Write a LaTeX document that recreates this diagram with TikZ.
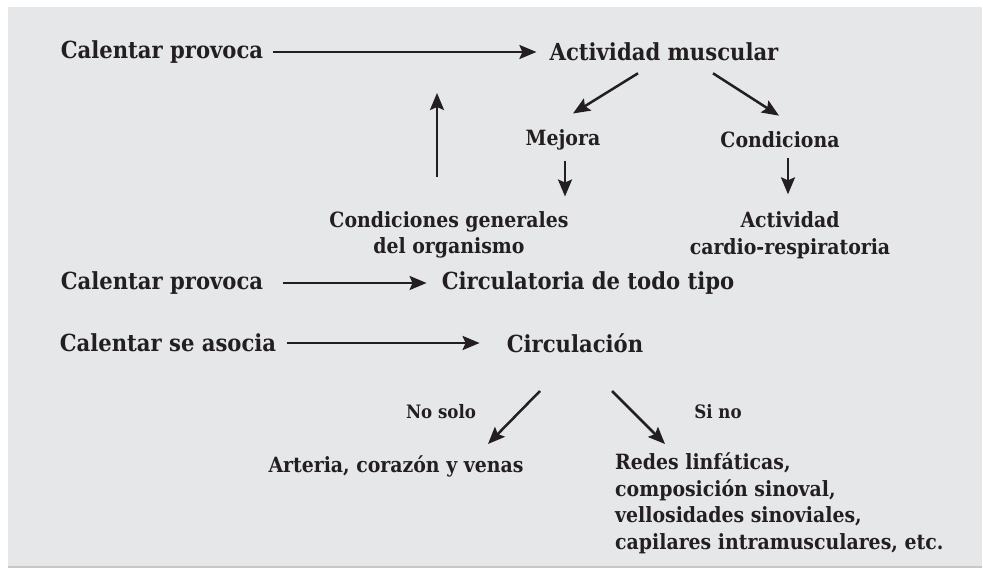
\documentclass[tikz,border=0pt]{standalone}
\usepackage{fontspec}
\setmainfont{DejaVu Serif Condensed}
\usetikzlibrary{arrows.meta,calc}
\definecolor{panel}{HTML}{E6E7E9}
\definecolor{ink}{HTML}{231F20}
\begin{document}
\begin{tikzpicture}[x=1pt,y=-1pt,
    big/.style={inner sep=0pt,text=ink,font=\bfseries\fontsize{23.5}{28}\selectfont},
    small/.style={inner sep=0pt,text=ink,font=\bfseries\fontsize{21}{26.5}\selectfont},
    tiny/.style={inner sep=0pt,text=ink,font=\bfseries\fontsize{18.5}{22}\selectfont},
    arr/.style={draw=ink,line width=2.5pt,-{Stealth[length=17pt,width=14pt,inset=3pt]}}]
    \useasboundingbox (0,0) rectangle (983,575);
    \fill[panel] (8,7) rectangle (982,567);
    \draw[black!22,line width=1.5pt] (8,567) -- (982,567);
    % first block
    \node[big] (cp1) at (162,52) {Calentar provoca};
    \node[big] (act) at (664,52) {Actividad muscular};
    \node[small] (mej) at (563,140) {Mejora};
    \node[small] (cond) at (780,140) {Condiciona};
    \node[small,align=center] (cgo) at (449,235) {Condiciones generales\\del organismo};
    \node[small,align=center] (acr) at (790,235) {Actividad\\cardio-respiratoria};
    \coordinate (upb) at (437,177);
    \coordinate (upt) at (437,93);
    \draw[arr,shorten <=10pt,shorten >=13pt] (cp1.east) -- (act.west);
    \draw[arr] ($(act.south)+(-26,12)$) -- ($(mej.north)+(10,-16)$);
    \draw[arr] ($(act.south)+(49,12)$) -- ($(cond.north)+(-1,-16)$);
    \draw[arr] ($(mej.south)+(2,10)$) -- ($(mej.south)+(2,46)$);
    \draw[arr] ($(cond.south)+(8,10)$) -- ($(cond.south)+(8,46)$);
    \draw[arr] (upb) -- (upt);
    % second block
    \node[big] (cp2) at (162,283) {Calentar provoca};
    \node[big] (ctt) at (588,283) {Circulatoria de todo tipo};
    \draw[arr,shorten <=20pt,shorten >=15pt] (cp2.east) -- (ctt.west);
    % third block
    \node[big] (csa) at (168,343) {Calentar se asocia};
    \node[big] (circ) at (575,343) {Circulación};
    \node[tiny] (nosolo) at (441,412) {No solo};
    \node[tiny] (sino) at (718,412) {Si no};
    \node[small] (acv) at (396,466) {Arteria, corazón y venas};
    \node[small,align=left,anchor=north west] (redes) at (615,453) {Redes linfáticas,\\composición sinoval,\\vellosidades sinoviales,\\capilares intramusculares, etc.};
    \draw[arr,shorten <=11pt,shorten >=27pt] (csa.east) -- (circ.west);
    \draw[arr] ($(circ.center)+(-35,48)$) -- ($(acv.center)+(92,-22)$);
    \draw[arr] ($(circ.center)+(37,48)$) -- ($(redes.north west)+(50,-9)$);
\end{tikzpicture}
\end{document}
